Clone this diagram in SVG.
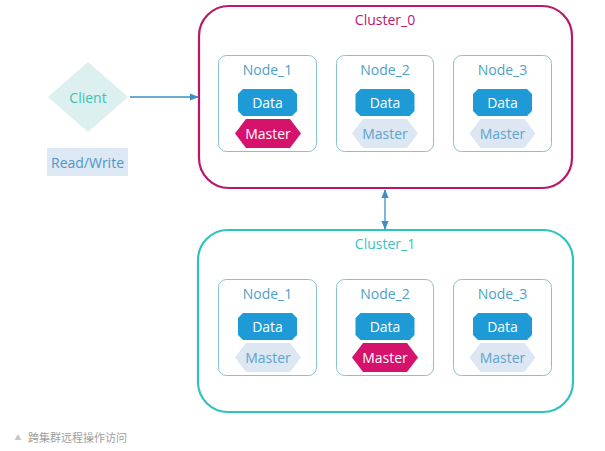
<svg xmlns="http://www.w3.org/2000/svg" width="605" height="451" viewBox="0 0 605 451">
<defs>
<style>
text{font-family:"Open Sans","Noto Sans","Liberation Sans",sans-serif;font-size:14px;text-anchor:middle;dominant-baseline:central}
.node{fill:#fff;stroke:#86c2d2;stroke-width:1}
.nlabel{fill:#4f9fc6}
.data{fill:#1e9ad6}
.dtext{fill:#fff}
.mact{fill:#d5126c}
.mtext{fill:#fff}
.minact{fill:#dce7f3}
.mitext{fill:#5ea4cc}
.conn{stroke:#3b8fc2;stroke-width:1.3;fill:none}
</style>
<marker id="ah" viewBox="0 0 10 10" refX="9" refY="5" markerWidth="7" markerHeight="7" orient="auto-start-reverse">
<path d="M0,1 L10,5 L0,9 z" fill="#3b8fc2"/>
</marker>
<path id="dshape" d="M5,0 H54 L59,5 V22 L54,27 H5 L0,22 V5 z"/>
<path id="mshape" d="M0,14.5 L11,0 H55 L66,14.5 L55,29 H11 z"/>
</defs>
<rect width="605" height="451" fill="#fff"/>

<g id="client">
<polygon points="88,62 128,97 88,132 48,97" fill="#dcf0ef"/>
<text x="88" y="97" fill="#3fc0b4">Client</text>
</g>
<g id="readwrite">
<rect x="47" y="148" width="81" height="28" fill="#dde8f5"/>
<text x="87.5" y="162" fill="#4f96c8">Read/Write</text>
</g>

<g id="cluster_0">
<rect x="199" y="6" width="373" height="182" rx="30" fill="#fff" stroke="#b8176c" stroke-width="2.2"/>
<text x="385" y="19" fill="#b8176c">Cluster_0</text>
</g>
<g id="c0_node_1">
<rect class="node" x="218.5" y="55.5" width="98" height="96" rx="8"/>
<text class="nlabel" x="267.5" y="69">Node_1</text>
<use href="#dshape" class="data" x="238" y="89"/>
<text class="dtext" x="267.5" y="102.5">Data</text>
<use href="#mshape" class="mact" x="235" y="119"/>
<text class="mtext" x="268" y="133.5">Master</text>
</g>
<g id="c0_node_2">
<rect class="node" x="336.5" y="55.5" width="97" height="96" rx="8"/>
<text class="nlabel" x="385" y="69">Node_2</text>
<use href="#dshape" class="data" x="355.5" y="89"/>
<text class="dtext" x="385" y="102.5">Data</text>
<use href="#mshape" class="minact" x="352" y="119"/>
<text class="mitext" x="385" y="133.5">Master</text>
</g>
<g id="c0_node_3">
<rect class="node" x="453.5" y="55.5" width="98" height="96" rx="8"/>
<text class="nlabel" x="502.5" y="69">Node_3</text>
<use href="#dshape" class="data" x="473" y="89"/>
<text class="dtext" x="502.5" y="102.5">Data</text>
<use href="#mshape" class="minact" x="469.5" y="119"/>
<text class="mitext" x="502.5" y="133.5">Master</text>
</g>

<g id="cluster_1">
<rect x="198" y="230" width="375" height="182" rx="30" fill="#fff" stroke="#2fc3c0" stroke-width="2.2"/>
<text x="385" y="243" fill="#3fc0bc">Cluster_1</text>
</g>
<g id="c1_node_1">
<rect class="node" x="218.5" y="279.5" width="98" height="96" rx="8"/>
<text class="nlabel" x="267.5" y="293">Node_1</text>
<use href="#dshape" class="data" x="238" y="313"/>
<text class="dtext" x="267.5" y="326.5">Data</text>
<use href="#mshape" class="minact" x="235" y="343"/>
<text class="mitext" x="268" y="357.5">Master</text>
</g>
<g id="c1_node_2">
<rect class="node" x="336.5" y="279.5" width="97" height="96" rx="8"/>
<text class="nlabel" x="385" y="293">Node_2</text>
<use href="#dshape" class="data" x="355.5" y="313"/>
<text class="dtext" x="385" y="326.5">Data</text>
<use href="#mshape" class="mact" x="352" y="343"/>
<text class="mtext" x="385" y="357.5">Master</text>
</g>
<g id="c1_node_3">
<rect class="node" x="453.5" y="279.5" width="98" height="96" rx="8"/>
<text class="nlabel" x="502.5" y="293">Node_3</text>
<use href="#dshape" class="data" x="473" y="313"/>
<text class="dtext" x="502.5" y="326.5">Data</text>
<use href="#mshape" class="minact" x="469.5" y="343"/>
<text class="mitext" x="502.5" y="357.5">Master</text>
</g>

<g id="connectors">
<line class="conn" x1="130" y1="97" x2="198" y2="97" marker-end="url(#ah)"/>
<line class="conn" x1="385" y1="190" x2="385" y2="229" marker-start="url(#ah)" marker-end="url(#ah)"/>
</g>

<g id="caption">
<polygon points="18,434 21.5,440 14.5,440" fill="#c8c8c8"/>
<text x="28" y="437" fill="#a0a0a0" style="text-anchor:start;font-size:11px;font-family:'Noto Sans CJK SC',sans-serif">跨集群远程操作访问</text>
</g>
</svg>
